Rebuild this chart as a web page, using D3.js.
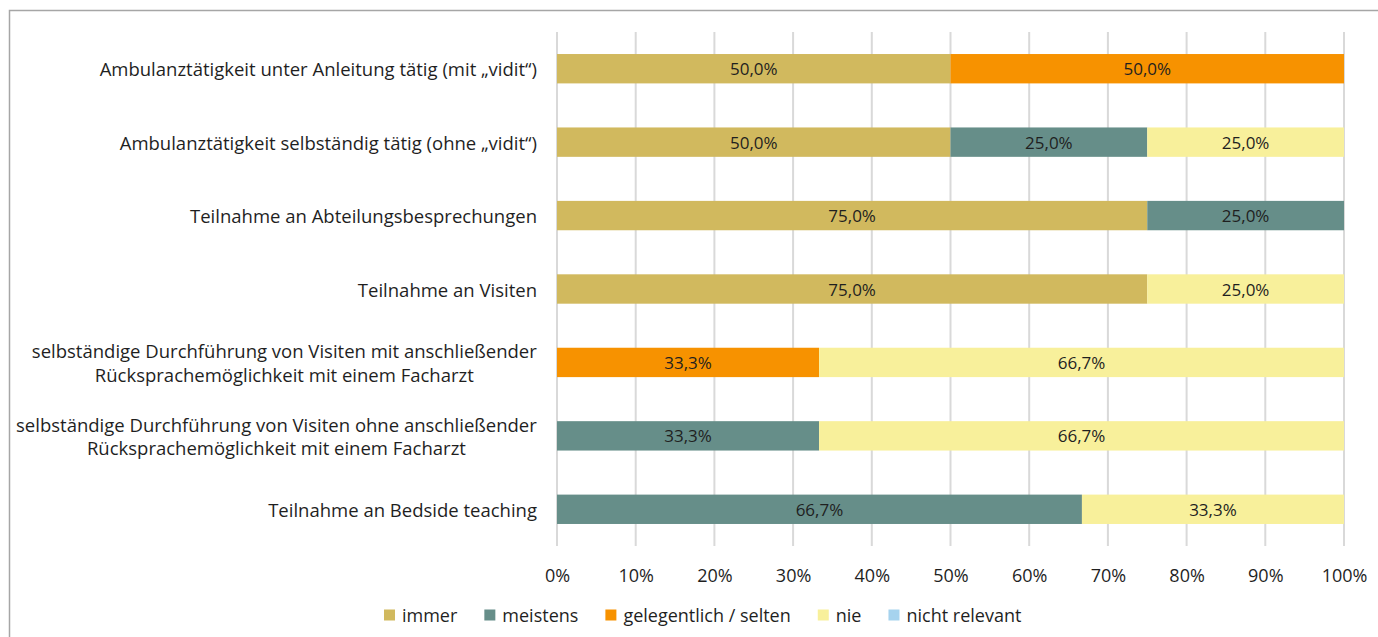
<!DOCTYPE html>
<html>
<head>
<meta charset="utf-8">
<script src="https://cdn.jsdelivr.net/npm/d3@7"></script>
<style>
  html, body { margin: 0; padding: 0; background: #fff; }
  svg { display: block; }
  text { font-family: "Open Sans", sans-serif; fill: #1f1f1f; }
</style>
</head>
<body>
<svg id="chart" width="1378" height="637"></svg>
<script>
// Activities (top to bottom); "\n" splits a label over two lines
const categories = [
  "Ambulanztätigkeit unter Anleitung tätig (mit „vidit“)",
  "Ambulanztätigkeit selbständig tätig (ohne „vidit“)",
  "Teilnahme an Abteilungsbesprechungen",
  "Teilnahme an Visiten",
  "selbständige Durchführung von Visiten mit anschließender\nRücksprachemöglichkeit mit einem Facharzt",
  "selbständige Durchführung von Visiten ohne anschließender\nRücksprachemöglichkeit mit einem Facharzt",
  "Teilnahme an Bedside teaching"
];

const seriesNames = ["immer", "meistens", "gelegentlich / selten", "nie", "nicht relevant"];
const seriesColors = ["#D1B95E", "#668E89", "#F79200", "#F8F09B", "#A6D3EE"];

// Shares in percent per activity
const immer          = [50, 50, 75, 75, 0, 0, 0];
const meistens       = [0, 25, 25, 0, 0, 33.3, 66.7];
const gelegentlich   = [50, 0, 0, 0, 33.3, 0, 0];
const nie            = [0, 25, 0, 25, 66.7, 66.7, 33.3];
const nichtRelevant  = [0, 0, 0, 0, 0, 0, 0];

const tickValues = [0, 10, 20, 30, 40, 50, 60, 70, 80, 90, 100];

const seriesValues = [immer, meistens, gelegentlich, nie, nichtRelevant];

const rows = categories.map((c, i) => {
  const r = { cat: c };
  seriesNames.forEach((s, j) => { r[s] = seriesValues[j][i]; });
  return r;
});

const de = d3.formatLocale({ decimal: ",", thousands: ".", grouping: [3], currency: ["", " €"] });
const fmtLabel = v => de.format(".1f")(v) + "%";

const svg = d3.select("#chart");

// outer frame
svg.append("rect")
  .attr("x", 9.5).attr("y", 10.5)
  .attr("width", 1400).attr("height", 700)
  .attr("fill", "none").attr("stroke", "#a6a6a6").attr("stroke-width", 1.5);

const plot = { left: 557, right: 1344, top: 32, bottom: 546 };

const x = d3.scaleLinear().domain([0, 100]).range([plot.left, plot.right]);
const y = d3.scaleBand().domain(categories).range([plot.top, plot.bottom]).paddingInner(0.6).paddingOuter(0.3);

// vertical gridlines
svg.append("g").selectAll("line").data(tickValues).join("line")
  .attr("x1", d => x(d)).attr("x2", d => x(d))
  .attr("y1", plot.top).attr("y2", plot.bottom)
  .attr("stroke", "#d9d9d9").attr("stroke-width", 2);

// stacked bars
const stack = d3.stack().keys(seriesNames)(rows);
const layers = svg.append("g").selectAll("g").data(stack).join("g")
  .attr("fill", (d, i) => seriesColors[i]);

layers.selectAll("rect").data(d => d.filter(p => p[1] - p[0] > 0)).join("rect")
  .attr("x", d => x(d[0]))
  .attr("width", d => x(d[1]) - x(d[0]))
  .attr("y", d => y(d.data.cat))
  .attr("height", y.bandwidth());

// value labels
const labelG = svg.append("g");
stack.forEach(layer => {
  layer.filter(p => p[1] - p[0] > 0).forEach(p => {
    labelG.append("text")
      .attr("x", x((p[0] + p[1]) / 2))
      .attr("y", y(p.data.cat) + y.bandwidth() / 2)
      .attr("text-anchor", "middle")
      .attr("dominant-baseline", "central")
      .attr("font-size", 17)
      .text(fmtLabel(p[1] - p[0]));
  });
});

// category labels
const catG = svg.append("g");
categories.forEach(c => {
  const lines = c.split("\n");
  const cy = y(c) + y.bandwidth() / 2;
  const t = catG.append("text")
    .attr("text-anchor", "middle")
    .attr("font-size", 18.5);
  lines.forEach((ln, k) => {
    t.append("tspan")
      .attr("x", 0)
      .attr("y", cy + (k - (lines.length - 1) / 2) * 23.5)
      .attr("dominant-baseline", "central")
      .text(ln);
  });
  // right-align the block, centre its lines against each other
  const w = t.node().getBBox().width;
  t.attr("transform", `translate(${537 - w / 2},0)`);
});

// x axis labels
const axis = d3.axisBottom(x).tickValues(tickValues).tickFormat(d => d + "%").tickSize(0).tickPadding(0);
const ax = svg.append("g").attr("transform", `translate(0,${plot.bottom})`).call(axis);
ax.select(".domain").remove();
ax.selectAll("text").attr("font-size", 18).attr("dy", null).attr("y", 29)
  .attr("dominant-baseline", "central").attr("fill", "#1f1f1f")
  .style("font-family", '"Open Sans", sans-serif');

// legend
const legend = svg.append("g");
let lx = 0;
seriesNames.forEach((s, i) => {
  const g = legend.append("g").attr("transform", `translate(${lx},0)`);
  g.append("rect").attr("x", 0).attr("y", -5.5).attr("width", 11).attr("height", 11).attr("fill", seriesColors[i]);
  const t = g.append("text").attr("x", 18).attr("y", 0).attr("dominant-baseline", "central")
    .attr("font-size", 18).text(s);
  lx += 18 + t.node().getComputedTextLength() + 27;
});
const legendW = lx - 27;
legend.attr("transform", `translate(${384},615)`);
</script>
</body>
</html>
